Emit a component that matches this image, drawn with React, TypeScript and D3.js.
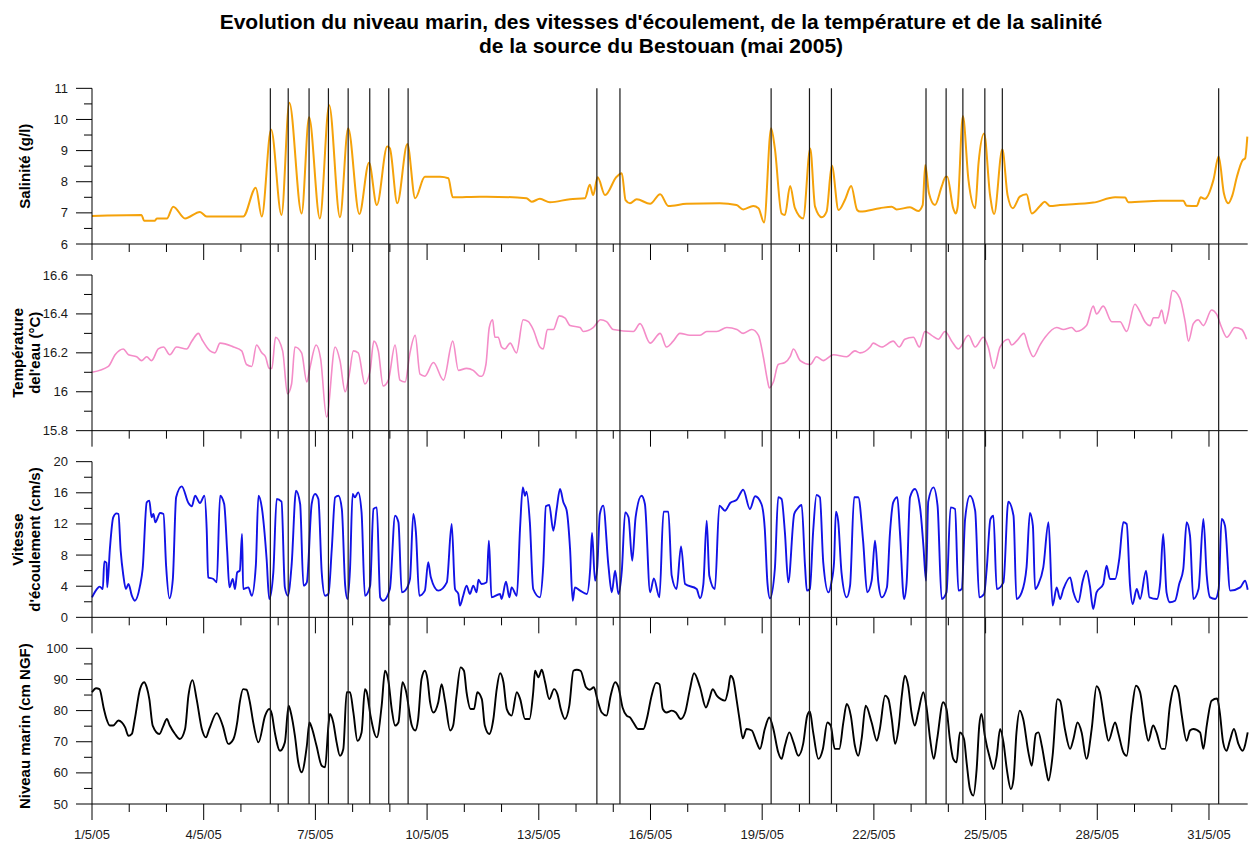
import React from "react";
import * as d3 from "d3";

// ---------- Data (day offset from 1/5/05 00:00, value) ----------
const titleLines = [
  "Evolution du niveau marin, des vitesses d'écoulement, de la température et de la salinité",
  "de la source du Bestouan (mai 2005)",
];

const xLabelDays = [0, 3, 6, 9, 12, 15, 18, 21, 24, 27, 30];
const xLabels = ["1/5/05", "4/5/05", "7/5/05", "10/5/05", "13/5/05", "16/5/05", "19/5/05", "22/5/05", "25/5/05", "28/5/05", "31/5/05"];
const xMinorDays = d3.range(0, 31);
const xDomain = [0, 31.04];

const eventDays = [4.79, 5.27, 5.83, 6.35, 6.88, 7.46, 7.97, 8.49, 13.56, 14.18, 18.24, 19.27, 19.86, 22.4, 22.94, 23.39, 23.98, 24.45, 30.26];

const salTicks = [6, 7, 8, 9, 10, 11];
const tempTicks = [15.8, 16, 16.2, 16.4, 16.6];
const velTicks = [0, 4, 8, 12, 16, 20];
const seaTicks = [50, 60, 70, 80, 90, 100];

const salinity: [number, number][] = [
  [0, 6.9], [1.33, 6.93], [1.4, 6.75], [1.69, 6.75], [1.74, 6.82], [2.01, 6.82], [2.18, 7.2], [2.5, 6.82], [2.9, 7.03], [3.08, 6.88],
  [4.06, 6.88], [4.4, 7.81], [4.56, 6.88], [4.81, 9.68], [5.09, 6.93], [5.3, 10.54], [5.63, 6.98], [5.83, 10.07], [6.12, 6.82], [6.37, 10.46],
  [6.66, 6.86], [6.88, 9.72], [7.18, 6.96], [7.44, 8.61], [7.65, 7.25], [7.93, 9.13], [8.0, 9.07], [8.2, 7.31], [8.47, 9.21], [8.68, 7.47],
  [8.94, 8.16], [9.35, 8.16], [9.57, 8.11], [9.69, 7.5], [10.42, 7.52], [10.6, 7.52], [11.67, 7.47], [11.81, 7.36], [12.03, 7.45], [12.3, 7.34],
  [12.84, 7.44], [13.24, 7.47], [13.37, 7.9], [13.46, 7.57], [13.58, 8.14], [13.78, 7.57], [14.09, 8.16], [14.23, 8.27], [14.33, 7.41], [14.45, 7.31],
  [14.63, 7.44], [14.99, 7.29], [15.26, 7.6], [15.48, 7.22], [15.97, 7.29], [16.86, 7.31], [17.31, 7.25], [17.49, 7.11], [17.76, 7.22], [17.9, 7.15],
  [18.05, 6.69], [18.24, 9.72], [18.34, 9.07], [18.52, 6.98], [18.61, 6.93], [18.75, 7.86], [18.88, 7.15], [19.1, 6.82], [19.29, 9.07], [19.42, 7.2],
  [19.6, 6.86], [19.73, 7.04], [19.87, 8.52], [20.05, 7.09], [20.23, 7.44], [20.39, 7.86], [20.55, 7.09], [20.63, 7.04], [21.16, 7.15], [21.48, 7.2],
  [21.61, 7.11], [21.97, 7.18], [22.19, 7.06], [22.31, 7.25], [22.38, 8.54], [22.48, 7.63], [22.64, 7.25], [22.82, 7.84], [22.93, 8.16], [22.97, 8.16],
  [23.13, 7.15], [23.2, 6.98], [23.25, 7.2], [23.39, 10.11], [23.54, 8.06], [23.72, 7.15], [23.81, 8.59], [23.96, 9.55], [24.12, 7.57], [24.23, 6.96],
  [24.45, 9.04], [24.59, 7.57], [24.73, 7.15], [24.92, 7.52], [25.1, 7.6], [25.24, 6.98], [25.46, 7.22], [25.59, 7.36], [25.73, 7.22], [26.0, 7.25],
  [26.89, 7.33], [27.48, 7.5], [27.75, 7.49], [27.83, 7.34], [28.69, 7.39], [29.31, 7.39], [29.4, 7.23], [29.67, 7.22], [29.78, 7.5], [29.89, 7.45],
  [30.12, 8.06], [30.26, 8.81], [30.4, 7.63], [30.52, 7.31], [30.63, 7.57], [30.75, 8.16], [30.91, 8.7], [30.97, 8.75], [31.03, 9.45],
];

const temperature: [number, number][] = [
  [0, 16.1], [0.44, 16.13], [0.62, 16.19], [0.84, 16.22], [0.98, 16.19], [1.2, 16.18], [1.33, 16.16], [1.47, 16.18], [1.6, 16.16], [1.78, 16.22],
  [1.92, 16.23], [2.09, 16.19], [2.27, 16.23], [2.54, 16.22], [2.68, 16.26], [2.86, 16.3], [2.95, 16.27], [3.17, 16.21], [3.3, 16.2], [3.44, 16.25],
  [3.8, 16.23], [4.02, 16.21], [4.15, 16.14], [4.29, 16.13], [4.42, 16.24], [4.56, 16.2], [4.66, 16.18], [4.76, 16.12], [4.83, 16.12], [4.93, 16.28],
  [5.12, 16.21], [5.25, 15.99], [5.36, 16.04], [5.45, 16.23], [5.63, 16.2], [5.77, 16.05], [5.85, 16.12], [6.02, 16.24], [6.14, 16.17], [6.3, 15.87],
  [6.53, 16.23], [6.66, 16.16], [6.8, 16.0], [6.91, 16.09], [7.02, 16.21], [7.15, 16.2], [7.33, 16.04], [7.47, 16.11], [7.57, 16.26], [7.69, 16.21],
  [7.82, 16.03], [7.96, 16.06], [8.14, 16.24], [8.27, 16.06], [8.41, 16.05], [8.54, 16.2], [8.68, 16.29], [8.81, 16.09], [8.94, 16.08], [9.17, 16.15],
  [9.44, 16.06], [9.69, 16.26], [9.84, 16.11], [10.06, 16.12], [10.24, 16.11], [10.42, 16.08], [10.47, 16.08], [10.58, 16.14], [10.67, 16.33], [10.76, 16.37],
  [10.82, 16.28], [10.91, 16.28], [11.0, 16.23], [11.09, 16.22], [11.23, 16.25], [11.4, 16.2], [11.58, 16.37], [11.72, 16.36], [11.85, 16.32], [12.03, 16.23],
  [12.12, 16.22], [12.23, 16.32], [12.39, 16.32], [12.55, 16.39], [12.7, 16.38], [12.84, 16.34], [13.11, 16.33], [13.19, 16.31], [13.46, 16.33], [13.66, 16.37],
  [13.82, 16.36], [14.0, 16.32], [14.54, 16.31], [14.72, 16.35], [14.99, 16.25], [15.26, 16.3], [15.43, 16.23], [15.61, 16.26], [15.79, 16.3], [16.06, 16.29],
  [16.33, 16.29], [16.51, 16.31], [16.78, 16.31], [17.05, 16.33], [17.32, 16.32], [17.49, 16.3], [17.72, 16.32], [17.9, 16.29], [18.03, 16.18], [18.14, 16.06],
  [18.19, 16.02], [18.3, 16.05], [18.43, 16.14], [18.61, 16.15], [18.75, 16.18], [18.84, 16.22], [19.02, 16.16], [19.29, 16.14], [19.46, 16.18], [19.64, 16.16],
  [19.91, 16.19], [20.27, 16.18], [20.49, 16.21], [20.63, 16.2], [20.9, 16.23], [20.98, 16.25], [21.21, 16.23], [21.52, 16.26], [21.68, 16.23], [21.83, 16.27],
  [22.06, 16.28], [22.22, 16.23], [22.37, 16.31], [22.55, 16.29], [22.73, 16.27], [22.91, 16.31], [23.09, 16.26], [23.27, 16.22], [23.54, 16.29], [23.72, 16.23],
  [23.94, 16.28], [24.07, 16.23], [24.22, 16.12], [24.39, 16.23], [24.61, 16.27], [24.7, 16.24], [24.83, 16.26], [25.03, 16.3], [25.15, 16.23], [25.28, 16.18],
  [25.46, 16.24], [25.6, 16.28], [25.91, 16.33], [26.09, 16.32], [26.31, 16.33], [26.44, 16.31], [26.71, 16.34], [26.89, 16.44], [26.98, 16.4], [27.16, 16.44],
  [27.39, 16.36], [27.61, 16.36], [27.79, 16.31], [28.01, 16.45], [28.15, 16.41], [28.28, 16.36], [28.42, 16.34], [28.51, 16.38], [28.64, 16.38], [28.73, 16.42],
  [28.82, 16.35], [28.91, 16.41], [29.02, 16.52], [29.22, 16.48], [29.36, 16.36], [29.45, 16.26], [29.58, 16.35], [29.71, 16.37], [29.85, 16.34], [30.07, 16.42],
  [30.2, 16.4], [30.34, 16.33], [30.48, 16.28], [30.7, 16.33], [30.88, 16.32], [31.01, 16.27],
];

const velocity: [number, number][] = [
  [0, 2.57], [0.13, 3.64], [0.21, 3.94], [0.29, 3.64], [0.33, 7.19], [0.39, 6.98], [0.41, 3.85], [0.48, 8.78], [0.57, 12.85], [0.66, 13.36],
  [0.71, 13.28], [0.77, 8.57], [0.84, 5.44], [0.91, 3.64], [0.98, 4.28], [1.07, 2.78], [1.15, 2.14], [1.29, 4.07], [1.36, 6.21], [1.47, 14.78],
  [1.54, 14.99], [1.6, 12.85], [1.65, 13.28], [1.7, 12.21], [1.83, 13.4], [1.92, 13.28], [1.99, 6.64], [2.08, 2.44], [2.17, 4.84], [2.26, 15.42],
  [2.41, 16.83], [2.59, 14.69], [2.68, 14.26], [2.77, 15.63], [2.9, 14.69], [3.02, 15.63], [3.08, 11.35], [3.12, 5.14], [3.26, 4.93], [3.35, 4.5],
  [3.44, 15.63], [3.55, 14.56], [3.63, 8.57], [3.69, 3.85], [3.78, 4.93], [3.84, 3.64], [3.9, 5.78], [3.97, 6.0], [4.03, 10.71], [4.06, 3.64],
  [4.2, 3.85], [4.29, 2.78], [4.4, 6.64], [4.47, 15.63], [4.56, 14.13], [4.69, 7.49], [4.76, 2.36], [4.87, 5.78], [4.96, 15.2], [5.09, 14.86],
  [5.18, 3.85], [5.26, 2.78], [5.36, 6.64], [5.48, 16.27], [5.59, 14.56], [5.68, 4.07], [5.77, 4.5], [5.9, 14.56], [5.99, 15.85], [6.08, 15.2],
  [6.17, 5.78], [6.26, 2.78], [6.35, 3.0], [6.44, 8.78], [6.53, 15.42], [6.62, 15.63], [6.71, 13.92], [6.8, 4.07], [6.86, 2.36], [6.93, 6.21],
  [7.0, 15.85], [7.06, 15.42], [7.15, 16.06], [7.24, 13.49], [7.33, 2.78], [7.47, 4.07], [7.56, 13.92], [7.65, 14.13], [7.74, 2.57], [7.82, 2.14],
  [8.0, 3.64], [8.14, 13.06], [8.23, 12.21], [8.32, 3.21], [8.41, 3.43], [8.54, 4.93], [8.63, 13.28], [8.7, 10.92], [8.79, 2.78], [8.94, 3.43],
  [9.03, 7.07], [9.1, 5.14], [9.3, 3.43], [9.53, 4.5], [9.66, 11.99], [9.75, 3.64], [9.84, 3.0], [9.88, 1.5], [9.97, 2.78], [10.06, 4.07],
  [10.15, 3.0], [10.24, 4.07], [10.33, 3.21], [10.38, 4.84], [10.46, 4.28], [10.6, 4.5], [10.66, 9.85], [10.73, 2.57], [10.96, 3.0], [11.0, 2.36],
  [11.12, 4.58], [11.21, 2.57], [11.27, 3.85], [11.41, 2.78], [11.5, 11.78], [11.57, 16.7], [11.63, 15.63], [11.67, 16.15], [11.76, 12.21], [11.85, 3.64],
  [12.03, 2.57], [12.12, 6.64], [12.19, 14.26], [12.28, 14.43], [12.39, 11.13], [12.48, 13.92], [12.57, 16.49], [12.66, 14.78], [12.75, 13.7], [12.84, 8.78],
  [12.91, 2.14], [12.97, 3.85], [13.11, 3.43], [13.29, 3.0], [13.38, 6.21], [13.43, 10.84], [13.51, 4.71], [13.57, 6.42], [13.64, 13.28], [13.73, 14.35],
  [13.87, 6.64], [13.96, 3.21], [14.05, 6.0], [14.14, 3.0], [14.23, 6.0], [14.32, 13.49], [14.41, 12.85], [14.51, 7.28], [14.6, 12.85], [14.76, 15.63],
  [14.85, 14.56], [14.99, 3.21], [15.09, 5.01], [15.24, 2.57], [15.35, 13.58], [15.48, 13.58], [15.57, 5.35], [15.7, 3.64], [15.82, 9.12], [15.93, 4.28],
  [16.24, 3.64], [16.33, 2.44], [16.42, 4.28], [16.51, 12.42], [16.58, 5.35], [16.73, 3.64], [16.85, 14.35], [17.0, 13.7], [17.14, 14.69], [17.32, 15.12],
  [17.49, 16.4], [17.67, 13.92], [17.81, 15.55], [17.98, 14.56], [18.07, 11.35], [18.14, 4.5], [18.21, 2.44], [18.34, 6.21], [18.43, 15.42], [18.52, 15.2],
  [18.61, 10.92], [18.7, 4.5], [18.86, 13.28], [18.94, 13.92], [19.06, 14.43], [19.15, 6.64], [19.2, 3.43], [19.28, 3.64], [19.37, 11.13], [19.46, 15.72],
  [19.55, 15.42], [19.64, 7.07], [19.78, 3.21], [19.86, 4.5], [19.93, 7.07], [19.98, 13.58], [20.04, 12.42], [20.13, 5.78], [20.27, 2.57], [20.36, 4.07],
  [20.47, 15.42], [20.58, 15.42], [20.71, 9.85], [20.82, 3.21], [20.94, 4.71], [21.03, 9.85], [21.12, 4.5], [21.21, 2.57], [21.35, 3.85], [21.43, 10.71],
  [21.52, 14.78], [21.63, 15.42], [21.7, 10.92], [21.81, 2.36], [21.88, 4.5], [21.97, 15.42], [22.1, 16.49], [22.24, 14.13], [22.33, 9.21], [22.4, 4.71],
  [22.46, 14.86], [22.6, 16.7], [22.71, 14.35], [22.82, 2.36], [22.95, 3.21], [23.06, 14.13], [23.18, 13.92], [23.27, 3.43], [23.36, 3.64], [23.45, 12.63],
  [23.58, 15.63], [23.72, 13.7], [23.83, 2.57], [23.96, 3.0], [24.03, 6.21], [24.13, 12.63], [24.21, 13.06], [24.3, 3.64], [24.48, 4.5], [24.61, 14.86],
  [24.75, 13.06], [24.83, 2.36], [24.97, 3.21], [25.1, 6.42], [25.19, 13.4], [25.27, 11.78], [25.33, 3.64], [25.42, 4.28], [25.55, 6.42], [25.69, 12.21],
  [25.8, 1.5], [25.91, 3.85], [26.0, 2.36], [26.09, 3.64], [26.27, 5.14], [26.36, 3.21], [26.49, 1.93], [26.61, 4.71], [26.71, 6.0], [26.8, 4.07],
  [26.89, 1.07], [26.98, 3.21], [27.16, 4.28], [27.25, 6.64], [27.34, 4.93], [27.48, 4.93], [27.59, 7.49], [27.7, 12.21], [27.79, 11.99], [27.88, 4.07],
  [27.95, 1.71], [28.06, 3.64], [28.15, 2.36], [28.31, 6.0], [28.4, 2.57], [28.6, 2.36], [28.69, 4.5], [28.77, 10.71], [28.86, 3.21], [28.95, 1.93],
  [29.09, 2.14], [29.2, 4.28], [29.31, 6.21], [29.4, 12.21], [29.49, 10.49], [29.58, 2.36], [29.72, 3.64], [29.85, 12.63], [29.94, 5.35], [30.03, 2.57],
  [30.17, 2.36], [30.26, 3.64], [30.34, 12.63], [30.43, 11.78], [30.57, 3.43], [30.84, 3.85], [30.97, 4.71], [31.04, 3.55],
];

const seaLevel: [number, number][] = [
  [0, 85.9], [0.11, 87.2], [0.2, 86.9], [0.32, 80.5], [0.39, 77.3], [0.48, 75.2], [0.57, 75.2], [0.71, 76.8], [0.8, 76.2], [0.89, 74.6],
  [0.98, 71.9], [1.07, 72.5], [1.15, 77.3], [1.29, 86.9], [1.4, 89.1], [1.47, 87.5], [1.54, 83.7], [1.63, 75.2], [1.81, 72.5], [1.92, 75.2],
  [2.01, 77.3], [2.09, 75.2], [2.23, 72.5], [2.36, 70.9], [2.5, 74.1], [2.59, 84.8], [2.7, 89.8], [2.81, 83.7], [2.95, 74.1], [3.06, 71.4],
  [3.15, 74.1], [3.35, 79.2], [3.51, 75.2], [3.66, 69.3], [3.8, 70.9], [3.9, 76.2], [3.97, 82.7], [4.06, 86.9], [4.15, 86.7], [4.24, 82.7],
  [4.33, 76.2], [4.47, 69.8], [4.65, 78.4], [4.76, 80.5], [4.83, 78.9], [4.91, 73.0], [5.05, 67.1], [5.18, 69.8], [5.28, 81.6], [5.34, 79.4],
  [5.45, 71.9], [5.54, 63.4], [5.63, 60.2], [5.77, 68.7], [5.84, 76.2], [5.9, 74.6], [6.03, 68.7], [6.17, 62.3], [6.26, 61.8], [6.35, 75.2],
  [6.39, 78.9], [6.48, 76.2], [6.57, 69.8], [6.66, 65.5], [6.75, 67.7], [6.84, 85.9], [6.93, 85.9], [7.02, 79.4], [7.13, 70.3], [7.24, 73.0],
  [7.33, 86.9], [7.38, 85.9], [7.48, 78.4], [7.65, 71.4], [7.78, 81.6], [7.87, 92.8], [7.96, 89.6], [8.05, 80.5], [8.14, 75.2], [8.23, 76.2],
  [8.34, 89.1], [8.43, 86.4], [8.59, 75.2], [8.68, 73.6], [8.76, 77.3], [8.85, 90.1], [8.94, 92.8], [9.01, 90.1], [9.08, 82.7], [9.17, 79.4],
  [9.3, 82.7], [9.39, 88.5], [9.48, 83.2], [9.62, 73.6], [9.7, 75.2], [9.79, 84.8], [9.9, 93.9], [9.99, 92.8], [10.06, 85.9], [10.17, 80.5],
  [10.26, 80.5], [10.35, 85.9], [10.47, 83.7], [10.55, 75.2], [10.67, 72.5], [10.78, 77.3], [10.87, 86.9], [10.96, 92.0], [11.05, 89.1], [11.14, 80.5],
  [11.27, 78.4], [11.41, 85.9], [11.5, 83.7], [11.63, 77.3], [11.75, 77.3], [11.85, 85.9], [11.9, 92.8], [11.99, 90.7], [12.08, 93.1], [12.17, 89.1],
  [12.28, 83.7], [12.41, 86.9], [12.5, 85.3], [12.59, 80.5], [12.7, 77.3], [12.82, 81.6], [12.93, 92.8], [13.02, 93.1], [13.12, 92.8], [13.27, 87.5],
  [13.37, 86.7], [13.48, 87.5], [13.57, 83.7], [13.69, 79.4], [13.82, 78.4], [13.93, 84.8], [14.05, 89.1], [14.14, 87.5], [14.25, 81.0], [14.36, 78.4],
  [14.45, 77.8], [14.54, 76.2], [14.67, 74.1], [14.81, 74.1], [14.9, 77.3], [15.03, 84.8], [15.15, 88.9], [15.24, 88.5], [15.33, 80.5], [15.43, 79.4],
  [15.57, 80.0], [15.68, 79.4], [15.81, 77.3], [15.93, 79.4], [16.06, 86.9], [16.17, 92.0], [16.33, 87.5], [16.49, 81.0], [16.58, 83.7], [16.67, 86.9],
  [16.78, 84.8], [16.89, 83.7], [17.0, 83.2], [17.09, 86.9], [17.15, 91.2], [17.22, 90.1], [17.31, 83.7], [17.39, 77.3], [17.48, 71.1], [17.58, 74.1],
  [17.72, 73.6], [17.85, 69.8], [17.94, 67.7], [18.07, 74.1], [18.19, 77.8], [18.3, 74.1], [18.43, 66.6], [18.52, 64.5], [18.61, 68.7], [18.73, 73.0],
  [18.84, 69.8], [18.97, 65.5], [19.1, 69.3], [19.21, 78.4], [19.28, 79.7], [19.37, 73.0], [19.51, 64.5], [19.63, 67.7], [19.75, 76.2], [19.84, 75.2],
  [19.95, 67.7], [20.07, 67.7], [20.18, 76.2], [20.27, 82.1], [20.38, 78.4], [20.49, 68.7], [20.58, 65.5], [20.67, 70.9], [20.78, 81.6], [20.94, 76.2],
  [21.08, 70.3], [21.16, 74.1], [21.3, 84.8], [21.39, 83.7], [21.48, 77.3], [21.57, 69.3], [21.66, 74.1], [21.75, 84.8], [21.83, 91.2], [21.92, 88.0],
  [22.01, 79.4], [22.1, 75.2], [22.19, 79.4], [22.33, 85.9], [22.42, 80.5], [22.51, 70.9], [22.61, 64.5], [22.7, 70.9], [22.86, 82.7], [22.95, 80.5],
  [23.04, 70.9], [23.13, 64.5], [23.22, 63.4], [23.31, 73.0], [23.42, 70.9], [23.49, 63.4], [23.58, 54.8], [23.67, 52.7], [23.76, 61.2], [23.83, 75.2],
  [23.89, 78.9], [23.98, 71.9], [24.12, 64.5], [24.21, 61.2], [24.3, 65.5], [24.39, 74.1], [24.48, 69.8], [24.57, 61.2], [24.68, 54.8], [24.75, 58.0],
  [24.83, 73.0], [24.92, 80.0], [25.01, 77.3], [25.15, 66.6], [25.24, 62.3], [25.35, 72.5], [25.42, 73.0], [25.51, 68.7], [25.62, 61.2], [25.69, 57.5],
  [25.8, 65.5], [25.93, 83.7], [26.0, 83.2], [26.13, 74.1], [26.27, 67.7], [26.36, 70.9], [26.47, 76.2], [26.58, 73.0], [26.71, 64.5], [26.85, 74.1],
  [26.98, 87.8], [27.07, 85.9], [27.21, 75.2], [27.3, 70.3], [27.48, 76.2], [27.56, 73.0], [27.7, 66.6], [27.79, 65.5], [27.92, 79.4], [28.04, 88.0],
  [28.15, 85.9], [28.28, 75.2], [28.37, 70.3], [28.5, 75.2], [28.59, 73.0], [28.73, 67.7], [28.82, 67.7], [28.95, 81.6], [29.09, 88.0], [29.18, 85.9],
  [29.27, 78.4], [29.4, 70.3], [29.49, 73.6], [29.58, 74.1], [29.76, 73.0], [29.85, 67.7], [29.94, 75.2], [30.07, 83.2], [30.22, 83.9], [30.29, 79.4],
  [30.38, 69.8], [30.47, 67.1], [30.56, 70.3], [30.67, 74.1], [30.79, 69.3], [30.9, 67.1], [31.04, 73.0],
];

// ---------- Layout ----------
const W = 1249;
const H = 841;
const LEFT = 92;
const RIGHT = 1247.7;
const TOP0 = 88.33;
const PANEL_H = 155.67;
const PANEL_STEP = 186.67;

type Panel = {
  data: [number, number][];
  ticks: number[];
  color: string;
  width: number;
  title: string[];
};

const panels: Panel[] = [
  { data: salinity, ticks: salTicks, color: "#F5A20A", width: 2, title: ["Salinité (g/l)"] },
  { data: temperature, ticks: tempTicks, color: "#F48CC8", width: 1.6, title: ["Température", "del'eau (°C)"] },
  { data: velocity, ticks: velTicks, color: "#1212E6", width: 1.9, title: ["Vitesse", "d'écoulement (cm/s)"] },
  { data: seaLevel, ticks: seaTicks, color: "#000000", width: 1.9, title: ["Niveau marin (cm NGF)"] },
];

const x = d3.scaleLinear().domain(xDomain).range([LEFT, RIGHT]);
const FONT = "'Liberation Sans', Arial, Helvetica, sans-serif";
const fmt = (v: number) => String(+v.toFixed(1));

function PanelView({ p, i }: { p: Panel; i: number }) {
  const top = TOP0 + i * PANEL_STEP;
  const bottom = top + PANEL_H;
  const t = p.ticks;
  const y = d3.scaleLinear().domain([t[0], t[t.length - 1]]).range([bottom, top]);
  const minor = t.slice(0, -1).map((v, k) => (v + t[k + 1]) / 2);
  const line = d3
    .line<[number, number]>()
    .x((d) => x(d[0]))
    .y((d) => y(d[1]))
    .curve(d3.curveMonotoneX);
  const cy = (top + bottom) / 2;
  const titleX = p.title.length === 1 ? [30] : [22.5, 39.5];
  return (
    <g>
      <path d={line(p.data) || ""} fill="none" stroke={p.color} strokeWidth={p.width} strokeLinejoin="round" />
      <line x1={LEFT} x2={LEFT} y1={top} y2={bottom} stroke="#000" strokeWidth={1} />
      {t.map((v) => (
        <g key={"t" + v}>
          <line x1={LEFT - 16} x2={LEFT} y1={y(v)} y2={y(v)} stroke="#000" strokeWidth={1} />
          <text x={68} y={y(v)} dy="0.35em" textAnchor="end" fontSize={13} fill="#1a1a1a" fontFamily={FONT}>
            {fmt(v)}
          </text>
        </g>
      ))}
      {minor.map((v) => (
        <line key={"m" + v} x1={LEFT - 8} x2={LEFT} y1={y(v)} y2={y(v)} stroke="#000" strokeWidth={1} />
      ))}
      <line x1={LEFT} x2={RIGHT} y1={bottom} y2={bottom} stroke="#000" strokeWidth={1} />
      {xMinorDays.map((d) => (
        <line
          key={"x" + d}
          x1={x(d)}
          x2={x(d)}
          y1={bottom}
          y2={bottom + (xLabelDays.includes(d) ? 16 : 8)}
          stroke="#000"
          strokeWidth={1}
        />
      ))}
      {p.title.map((s, k) => (
        <text
          key={s}
          transform={`translate(${titleX[k]},${cy}) rotate(-90)`}
          textAnchor="middle"
          fontSize={15}
          fontWeight="bold"
          fill="#000"
          fontFamily={FONT}
        >
          {s}
        </text>
      ))}
    </g>
  );
}

export default function App() {
  const lastBottom = TOP0 + 3 * PANEL_STEP + PANEL_H;
  return (
    <svg
      width={W}
      height={H}
      viewBox={`0 0 ${W} ${H}`}
      style={{ position: "absolute", left: 0, top: 0, background: "#fff" }}
    >
      <rect x={0} y={0} width={W} height={H} fill="#fff" />
      <text x={661} y={29} textAnchor="middle" fontSize={21} fontWeight="bold" fontFamily={FONT} fill="#000">
        {titleLines[0]}
      </text>
      <text x={661} y={53} textAnchor="middle" fontSize={21} fontWeight="bold" fontFamily={FONT} fill="#000">
        {titleLines[1]}
      </text>
      {panels.map((p, i) => (
        <PanelView key={i} p={p} i={i} />
      ))}
      {eventDays.map((d) => (
        <line key={"e" + d} x1={x(d)} x2={x(d)} y1={TOP0} y2={lastBottom} stroke="#1a1a1a" strokeWidth={1.2} />
      ))}
      {xLabelDays.map((d, k) => (
        <text key={"l" + d} x={x(d)} y={838.5} textAnchor="middle" fontSize={13} fill="#1a1a1a" fontFamily={FONT}>
          {xLabels[k]}
        </text>
      ))}
    </svg>
  );
}
